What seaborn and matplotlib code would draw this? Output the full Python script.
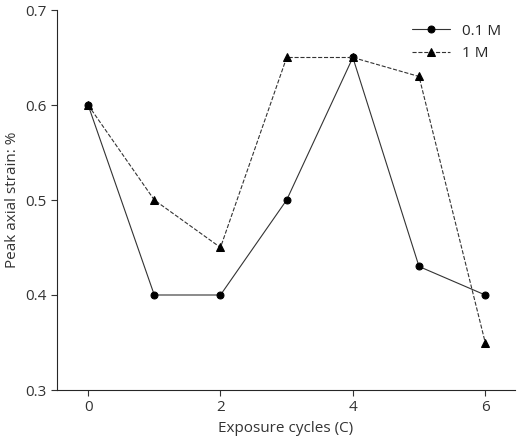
import matplotlib
matplotlib.use("Agg")
import matplotlib.pyplot as plt
import seaborn as sns
import pandas as pd

cycles = [0, 1, 2, 3, 4, 5, 6]
strain_01M = [0.60, 0.40, 0.40, 0.50, 0.65, 0.43, 0.40]
strain_1M = [0.60, 0.50, 0.45, 0.65, 0.65, 0.63, 0.35]

sns.set_style("ticks")
plt.rcParams['font.family'] = ['Open Sans', 'DejaVu Sans']

fig = plt.figure(figsize=(5.2, 4.42), dpi=100)
ax = fig.add_axes([57/520, 52/442, (515-57)/520, (390-10)/442])

df = pd.DataFrame({"x": cycles * 2, "y": strain_01M + strain_1M,
                   "s": ["0.1 M"] * 7 + ["1 M"] * 7})
sns.lineplot(data=df[df.s == "0.1 M"], x="x", y="y", ax=ax, color="#333333",
             lw=0.8, marker="o", markersize=5, label="0.1 M",
             markerfacecolor="black", markeredgecolor="black")
sns.lineplot(data=df[df.s == "1 M"], x="x", y="y", ax=ax, color="#333333",
             lw=0.8, ls="--", marker="^", markersize=5.5, label="1 M",
             markerfacecolor="black", markeredgecolor="black")

ax.set_xlim(-0.47, 6.45)
ax.set_ylim(0.3, 0.7)
ax.set_xticks([0, 2, 4, 6])
ax.set_yticks([0.3, 0.4, 0.5, 0.6, 0.7])
ax.set_yticklabels(["0.3", "0.4", "0.5", "0.6", "0.7"])
ax.set_xlabel("Exposure cycles (C)", fontsize=11, color="#333333")
ax.set_ylabel("Peak axial strain: %", fontsize=11, color="#333333")
ax.tick_params(labelsize=11, colors="#333333", direction="out", length=4)
sns.despine(ax=ax)
ax.legend(frameon=False, loc="upper right", fontsize=11, handlelength=2.5)
fig.savefig("out.png", dpi=100)
